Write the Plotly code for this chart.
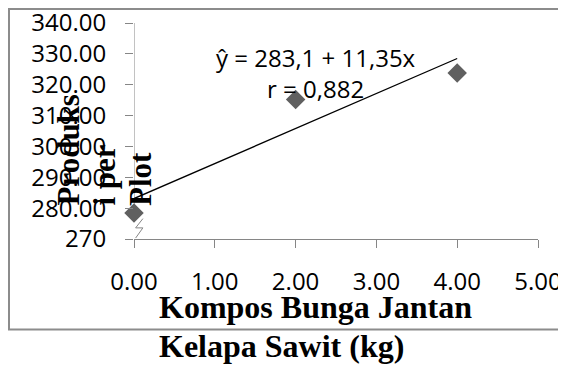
import numpy as np
import plotly.graph_objects as go

# Data
kompos_kg = [0, 2, 4]
produksi = [278.4, 315.2, 323.8]
x_tick_vals = [0, 1, 2, 3, 4, 5]
x_tick_text = ["0.00", "1.00", "2.00", "3.00", "4.00", "5.00"]
y_tick_vals = [270, 280, 290, 300, 310, 320, 330, 340]
y_tick_text = ["270", "280.00", "290.00", "300.00", "310.00", "320.00", "330.00", "340.00"]
eq_text = "ŷ = 283,1 + 11,35x<br>r = 0,882"
x_title_lines = ["Kompos Bunga Jantan", "Kelapa Sawit (kg)"]
y_title_lines = ["Produks", "i per", "Plot"]

slope, intercept = np.polyfit(kompos_kg, produksi, 1)
trend_x = [min(kompos_kg), max(kompos_kg)]
trend_y = [intercept + slope * v for v in trend_x]

AX = "#868686"
TICKFONT = dict(family="Open Sans", size=24, color="black")
XTITLEFONT = dict(family="Liberation Serif", size=32, color="black")
YTITLEFONT = dict(family="Liberation Serif", size=31, color="black")

fig = go.Figure()
fig.add_trace(go.Scatter(x=trend_x, y=trend_y, mode="lines",
                         line=dict(color="black", width=1.3),
                         cliponaxis=False, showlegend=False, hoverinfo="skip"))
fig.add_trace(go.Scatter(x=kompos_kg, y=produksi, mode="markers",
                         marker=dict(symbol="diamond", size=15, color="#606060"),
                         cliponaxis=False, showlegend=False))

OFF = 8  # page offset of the figure inside the browser window
L, T, W, H = 134, 23, 404, 216  # plot area in window pixels
def px(p):
    return (p - L) / W
def py(p):
    return (T + H - p) / H

fig.update_layout(
    width=566, height=365,
    margin=dict(l=L - OFF, r=566 - (L - OFF) - W, t=T - OFF,
                b=365 - (T - OFF) - H, autoexpand=False),
    paper_bgcolor="white", plot_bgcolor="white",
    xaxis=dict(range=[0, 5], tickvals=x_tick_vals, ticktext=x_tick_text,
               showline=True, linecolor=AX, linewidth=1, ticks="outside",
               ticklen=8, tickcolor=AX, showgrid=False, zeroline=False,
               tickfont=TICKFONT, ticklabelstandoff=13, automargin=False,
               ticklabeloverflow="allow"),
    yaxis=dict(range=[270, 340], tickvals=y_tick_vals, ticktext=y_tick_text,
               showline=False, ticks="outside", ticklen=8, tickcolor=AX,
               showgrid=False, zeroline=False, tickfont=TICKFONT,
               ticklabelstandoff=14, automargin=False,
               ticklabeloverflow="allow"),
    showlegend=False,
)

# chart border
fig.add_shape(type="rect", xref="paper", yref="paper",
              x0=px(9), x1=px(575), y0=py(329.5), y1=py(9),
              line=dict(color="#8c8c8c", width=2), layer="below")
# y axis line with break
fig.add_shape(type="line", xref="x", yref="y", x0=0, x1=0, y0=276.6, y1=340,
              line=dict(color=AX, width=1), layer="below")
fig.add_shape(type="path", xref="x", yref="y",
              path="M 0.11,276.6 L 0.02,273.6 L 0.11,273.6 L 0.02,270.3",
              line=dict(color=AX, width=1), layer="below")

fig.add_annotation(text=eq_text, xref="paper", yref="paper",
                   x=px(316), y=py(73), xanchor="center", yanchor="middle",
                   showarrow=False, align="center", font=TICKFONT)
for line, yc in zip(x_title_lines, [307, 346]):
    fig.add_annotation(text="<b>" + line + "</b>", xref="paper", yref="paper",
                       x=px(157), y=py(yc), xanchor="left", yanchor="middle",
                       showarrow=False, align="left", font=XTITLEFONT)
for line, xc in zip(y_title_lines, [68, 104, 140]):
    fig.add_annotation(text="<b>" + line + "</b>", xref="paper", yref="paper",
                       textangle=-90, x=px(xc), y=py(208),
                       xanchor="center", yanchor="bottom",
                       showarrow=False, font=YTITLEFONT)

fig.write_html("out.html")
